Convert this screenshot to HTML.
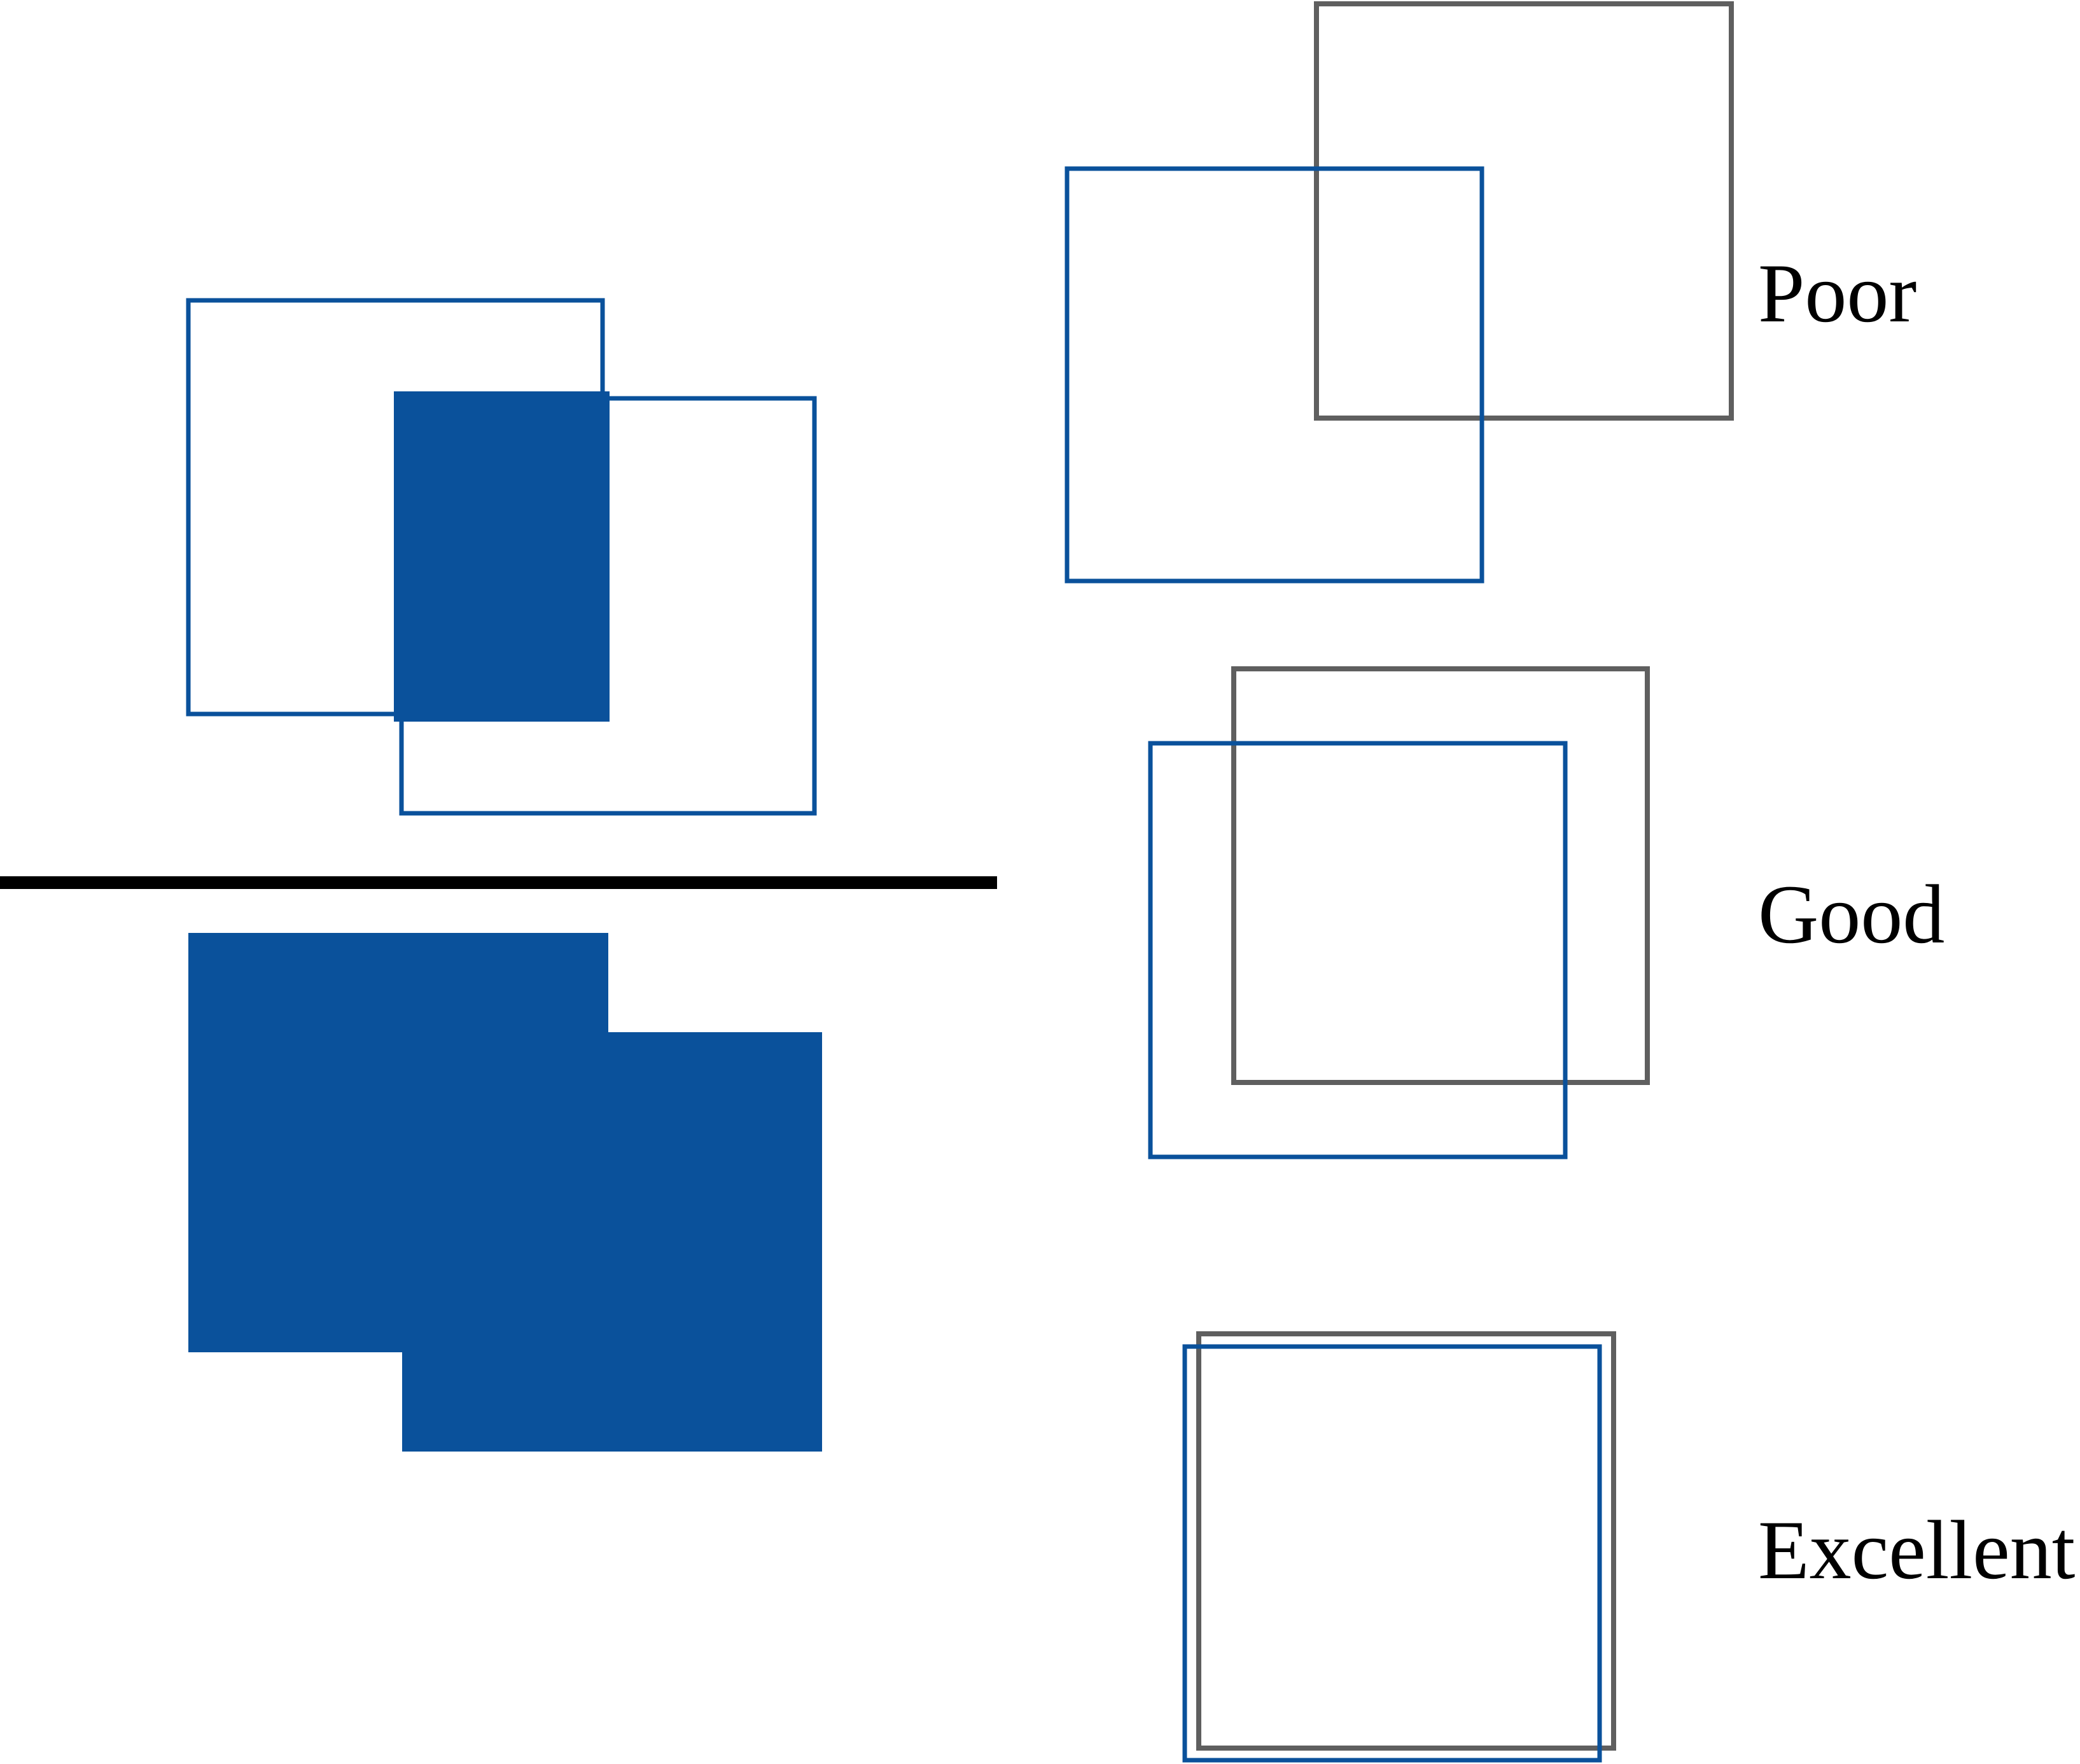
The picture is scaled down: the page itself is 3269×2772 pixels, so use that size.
<!DOCTYPE html>
<html><head><meta charset="utf-8"><style>
html,body{margin:0;padding:0;background:#fff;}
svg{display:block;}
text{font-family:"Liberation Serif",serif;font-size:132px;fill:#000;}
</style></head><body>
<svg width="3269" height="2772" viewBox="0 0 3269 2772" xmlns="http://www.w3.org/2000/svg">
<g fill="none" stroke="#0a519b" stroke-width="7">
<rect x="296" y="472" width="651" height="650"/>
<rect x="631" y="626" width="649" height="652"/>
</g>
<rect x="619" y="615" width="339" height="519" fill="#0a519b"/>
<rect x="0" y="1377" width="1567" height="20" fill="#000"/>
<rect x="296" y="1466" width="660" height="659" fill="#0a519b"/>
<rect x="632" y="1622" width="660" height="659" fill="#0a519b"/>
<g fill="none" stroke="#5f5f5f" stroke-width="8">
<rect x="2069" y="6" width="652" height="651"/>
<rect x="1939" y="1051" width="650" height="650"/>
<rect x="1884" y="2096" width="652" height="651"/>
</g>
<g fill="none" stroke="#0a519b" stroke-width="7">
<rect x="1677" y="265" width="652" height="648"/>
<rect x="1808" y="1168" width="652" height="650"/>
<rect x="1862" y="2116" width="652" height="650"/>
</g>
<text x="2763" y="505">Poor</text>
<text x="2763" y="1481">Good</text>
<text x="2763" y="2480">Excellent</text>
</svg>
</body></html>
